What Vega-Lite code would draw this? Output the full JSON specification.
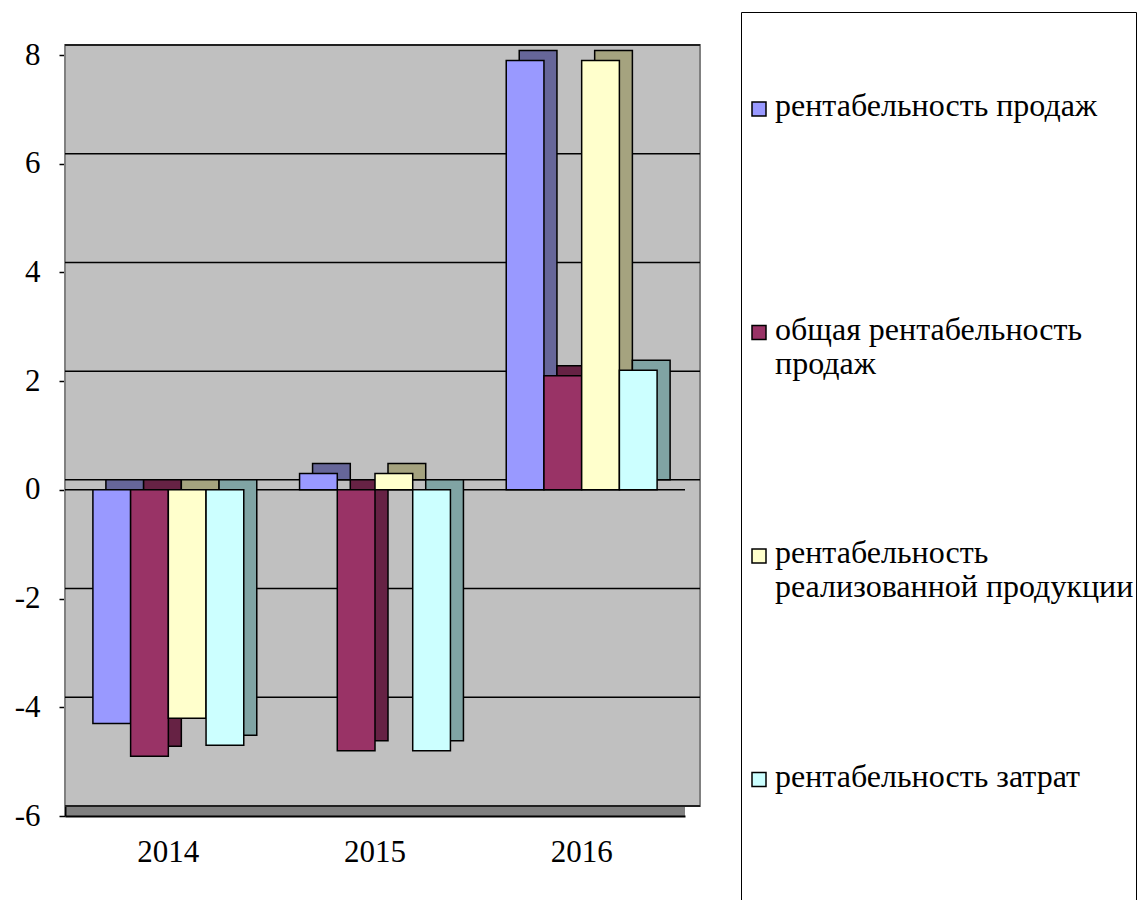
{
  "$schema": "https://vega.github.io/schema/vega-lite/v6.json",
  "width": 620,
  "height": 761,
  "autosize": "none",
  "padding": {"left": 65, "top": 55, "right": 455, "bottom": 84},
  "background": "white",
  "config": {
    "font": "Liberation Serif",
    "axis": {"labelFont": "Liberation Serif"},
    "legend": {"labelFont": "Liberation Serif"},
    "view": {"fill": "#808080", "stroke": null}
  },
  "datasets": {
    "bars": [
      {"year": "2014", "series": "рентабельность продаж", "value": -4.3},
      {"year": "2014", "series": "общая рентабельность продаж", "value": -4.9},
      {"year": "2014", "series": "рентабельность реализованной продукции", "value": -4.2},
      {"year": "2014", "series": "рентабельность затрат", "value": -4.7},
      {"year": "2015", "series": "рентабельность продаж", "value": 0.3},
      {"year": "2015", "series": "общая рентабельность продаж", "value": -4.8},
      {"year": "2015", "series": "рентабельность реализованной продукции", "value": 0.3},
      {"year": "2015", "series": "рентабельность затрат", "value": -4.8},
      {"year": "2016", "series": "рентабельность продаж", "value": 7.9},
      {"year": "2016", "series": "общая рентабельность продаж", "value": 2.1},
      {"year": "2016", "series": "рентабельность реализованной продукции", "value": 7.9},
      {"year": "2016", "series": "рентабельность затрат", "value": 2.2}
    ],
    "gridlines": [
      {"v": -6}, {"v": -4}, {"v": -2}, {"v": 0}, {"v": 2}, {"v": 4}, {"v": 6}, {"v": 8}
    ],
    "wall": [{"bottom": -6, "top": 8}]
  },
  "layer": [
    {
      "data": {"name": "wall"},
      "mark": {"type": "rect", "fill": "#c0c0c0", "stroke": "#808080", "strokeWidth": 2,
               "xOffset": 15, "x2Offset": 12, "yOffset": -10, "y2Offset": -10},
      "encoding": {
        "y": {"field": "bottom", "type": "quantitative", "scale": {"domain": [-6, 8], "nice": false, "zero": false}},
        "y2": {"field": "top"}
      }
    },
    {
      "data": {"name": "gridlines"},
      "mark": {"type": "rule", "color": "#000000", "strokeWidth": 1.5, "xOffset": 15, "x2Offset": 12, "yOffset": -10},
      "encoding": {
        "y": {"field": "v", "type": "quantitative"}
      }
    },
    {
      "data": {"name": "gridlines"},
      "transform": [{"filter": "datum.v == 0"}],
      "mark": {"type": "rule", "color": "#000000", "strokeWidth": 1.5},
      "encoding": {
        "y": {"field": "v", "type": "quantitative"}
      }
    },
    {
      "data": {"name": "bars"},
      "mark": {"type": "bar", "stroke": "#000000", "strokeWidth": 1.5, "yOffset": -10},
      "encoding": {
        "x": {"field": "year", "type": "nominal"},
        "xOffset": {
          "field": "series", "type": "nominal", "sort": null,
          "scale": {"range": [13, 163.87], "paddingInner": 0, "paddingOuter": 0}
        },
        "y": {"field": "value", "type": "quantitative"},
        "color": {
          "field": "series", "type": "nominal", "sort": null,
          "scale": {"range": ["#666699", "#662244", "#a5a37f", "#80a4a4"]},
          "legend": null
        }
      }
    },
    {
      "data": {"name": "bars"},
      "mark": {"type": "bar", "stroke": "#000000", "strokeWidth": 1.5},
      "encoding": {
        "x": {
          "field": "year", "type": "nominal",
          "scale": {"paddingInner": 0.27, "paddingOuter": 0.135},
          "axis": {
            "title": null, "labelAngle": 0, "labelAlign": "center", "ticks": false, "labelPadding": 36,
            "labelFont": "Liberation Serif", "labelFontSize": 31, "labelColor": "#000000",
            "domain": true, "domainColor": "#000000", "domainWidth": 2
          }
        },
        "xOffset": {
          "field": "series", "type": "nominal", "sort": null,
          "scale": {"paddingInner": 0, "paddingOuter": 0}
        },
        "y": {
          "field": "value", "type": "quantitative",
          "axis": {
            "title": null, "grid": false, "values": [-6, -4, -2, 0, 2, 4, 6, 8],
            "labelExpr": "'' + datum.value",
            "tickSize": 6, "tickColor": "#000000", "tickWidth": 1.5,
            "domainColor": "#000000", "domainWidth": 2,
            "labelPadding": 19, "labelFont": "Liberation Serif", "labelFontSize": 31, "labelColor": "#000000"
          }
        },
        "color": {
          "field": "series", "type": "nominal", "sort": null,
          "scale": {"range": ["#9999ff", "#993366", "#ffffcc", "#ccffff"]},
          "legend": {
            "orient": "none", "legendX": 676, "legendY": -43,
            "title": " ", "titleFontSize": 10, "titlePadding": 69,
            "padding": 2, "strokeColor": "#000000", "cornerRadius": 0,
            "fillColor": "#ffffff",
            "symbolType": "square", "symbolSize": 196, "symbolStrokeColor": "#000000", "symbolStrokeWidth": 1.5,
            "labelFont": "Liberation Serif", "labelFontSize": 32, "labelColor": "#000000", "labelLimit": 500, "labelOffset": 0,
            "labelBaseline": "top", "labelLineHeight": 38,
            "rowPadding": 157.5,
            "labelExpr": "datum.label == 'общая рентабельность продаж' ? ['общая рентабельность', 'продаж'] : datum.label == 'рентабельность реализованной продукции' ? ['рентабельность', 'реализованной продукции'] : datum.label == 'рентабельность затрат' ? [datum.label, ' ', ' ', ' ', ' '] : [datum.label, ' ']",
            "encode": {"labels": {"update": {"dy": {"value": -18}}}}
          }
        }
      }
    }
  ],
  "resolve": {"scale": {"color": "independent", "xOffset": "independent"}}
}
